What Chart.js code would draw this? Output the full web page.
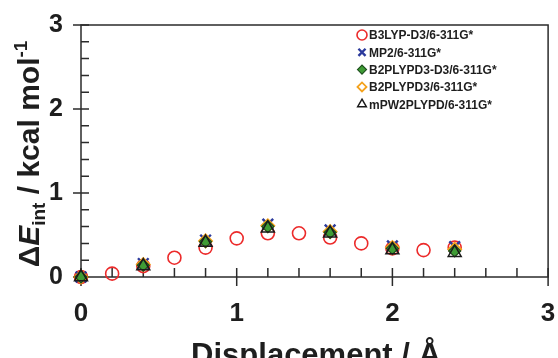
<!DOCTYPE html>
<html>
<head>
<meta charset="utf-8">
<script src="https://cdn.jsdelivr.net/npm/chart.js@4.4.1/dist/chart.umd.min.js"></script>
<style>
    html, body { margin: 0; padding: 0; background: #fff; }
    #wrap { width: 558px; height: 358px; position: relative; }
</style>
</head>
<body>
<div id="wrap"><canvas id="energyChart"></canvas></div>
<script>
// Data (displacement in Å, ΔE_int in kcal/mol)
const b3lypX = [0, 0.2, 0.4, 0.6, 0.8, 1.0, 1.2, 1.4, 1.6, 1.8, 2.0, 2.2, 2.4];
const b3lypY = [0, 0.04, 0.13, 0.23, 0.35, 0.46, 0.52, 0.52, 0.47, 0.40, 0.34, 0.32, 0.35];
const otherX = [0, 0.4, 0.8, 1.2, 1.6, 2.0, 2.4];
const mp2Y = [0, 0.16, 0.44, 0.63, 0.56, 0.37, 0.36];
const b2plypd3D3Y = [0, 0.14, 0.42, 0.60, 0.53, 0.34, 0.31];
const b2plypd3Y = [0, 0.15, 0.43, 0.61, 0.54, 0.35, 0.33];
const mpw2plypdY = [0, 0.13, 0.41, 0.58, 0.52, 0.32, 0.29];
const seriesLabels = ['B3LYP-D3/6-311G*', 'MP2/6-311G*', 'B2PLYPD3-D3/6-311G*', 'B2PLYPD3/6-311G*', 'mPW2PLYPD/6-311G*'];
const majorTicks = [0, 1, 2, 3];

function toPoints(xs, ys) {
    return xs.map((x, i) => ({ x: x, y: ys[i] }));
}

const AXIS = '#2b2b2b';
const FONT = '"Liberation Sans", Arial, sans-serif';

const datasets = [
    { label: seriesLabels[0], data: toPoints(b3lypX, b3lypY), pointStyle: 'circle', pointRadius: 6.5,
      borderColor: '#ec2a2a', backgroundColor: 'rgba(0,0,0,0)', borderWidth: 1.6, order: 4 },
    { label: seriesLabels[1], data: toPoints(otherX, mp2Y), pointStyle: 'crossRot', pointRadius: 7.5,
      borderColor: '#2c3a9c', backgroundColor: '#2c3a9c', borderWidth: 2.4, order: 3 },
    { label: seriesLabels[2], data: toPoints(otherX, b2plypd3D3Y), pointStyle: 'rectRot', pointRadius: 6,
      borderColor: '#1d4f1d', backgroundColor: '#3f9c35', borderWidth: 1.2, order: 1 },
    { label: seriesLabels[3], data: toPoints(otherX, b2plypd3Y), pointStyle: 'rectRot', pointRadius: 6.5,
      borderColor: '#f4a21c', backgroundColor: 'rgba(0,0,0,0)', borderWidth: 1.8, order: 2 },
    { label: seriesLabels[4], data: toPoints(otherX, mpw2plypdY), pointStyle: 'triangle', pointRadius: 7.5,
      borderColor: '#1a1a1a', backgroundColor: 'rgba(0,0,0,0)', borderWidth: 1.5, order: 0 }
];
datasets.forEach(ds => {
    ds.showLine = false;
    ds.clip = false;
    ds.pointHoverRadius = ds.pointRadius;
});

function noOverhang(scale) {
    scale.paddingLeft = 0;
    scale.paddingRight = 0;
    scale.paddingTop = 0;
    scale.paddingBottom = 0;
}

// frame, tick marks, axis titles, legend
const decorPlugin = {
    id: 'decor',
    beforeDatasetsDraw(chart) {
        const ctx = chart.ctx;
        const area = chart.chartArea;
        const xs = chart.scales.x;
        const ys = chart.scales.y;
        ctx.save();
        ctx.strokeStyle = AXIS;
        ctx.lineWidth = 1.5;
        ctx.strokeRect(area.left, area.top, area.right - area.left, area.bottom - area.top);

        // ticks every 0.2, majors cross the axis
        for (let i = 0; i <= 15; i++) {
            const v = i * 0.2;
            const major = i % 5 === 0;
            const px = xs.getPixelForValue(v);
            const py = ys.getPixelForValue(v);
            ctx.beginPath();
            ctx.moveTo(px, area.bottom + (major ? 9 : 0));
            ctx.lineTo(px, area.bottom - 9);
            ctx.moveTo(area.left - (major ? 8 : 0), py);
            ctx.lineTo(area.left + 8, py);
            ctx.stroke();
        }
        ctx.restore();
    },
    afterDatasetsDraw(chart) {
        const ctx = chart.ctx;
        ctx.save();
        ctx.fillStyle = '#1e1e1e';
        // x title
        ctx.font = 'bold 31px ' + FONT;
        ctx.textAlign = 'center';
        ctx.textBaseline = 'alphabetic';
        ctx.fillText('Displacement / Å', 316, 365);

        // y title with subscript and superscript
        const big = 'bold 30px ' + FONT;
        const small = 'bold 19px ' + FONT;
        const parts = [
            { t: '\u0394', f: big, dy: 0 },
            { t: 'E', f: 'italic ' + big, dy: 0 },
            { t: 'int', f: small, dy: 6 },
            { t: ' / kcal mol', f: big, dy: 0 },
            { t: '-1', f: small, dy: -12 }
        ];
        let total = 0;
        parts.forEach(p => { ctx.font = p.f; p.w = ctx.measureText(p.t).width; total += p.w; });
        ctx.translate(39, 154);
        ctx.rotate(-Math.PI / 2);
        ctx.textAlign = 'left';
        let cx = -total / 2;
        parts.forEach(p => {
            ctx.font = p.f;
            ctx.fillText(p.t, cx, p.dy);
            cx += p.w;
        });
        ctx.restore();

        // legend
        ctx.save();
        ctx.font = 'bold 12px ' + FONT;
        ctx.textBaseline = 'middle';
        ctx.textAlign = 'left';
        chart.data.datasets.forEach((ds, i) => {
            const ly = 35 + i * 17.3;
            ctx.strokeStyle = ds.borderColor;
            ctx.fillStyle = ds.backgroundColor;
            ctx.lineWidth = ds.borderWidth;
            Chart.helpers.drawPoint(ctx, {
                pointStyle: ds.pointStyle,
                radius: ds.pointStyle === 'rectRot' ? 4.5 : 5,
                borderWidth: Math.min(ds.borderWidth, 1.6),
                rotation: 0
            }, 362, ly);
            ctx.fillStyle = '#1e1e1e';
            ctx.fillText(ds.label, 369, ly + 1);
        });
        ctx.restore();
    }
};

new Chart(document.getElementById('energyChart'), {
    type: 'scatter',
    data: { datasets: datasets },
    options: {
        responsive: true,
        maintainAspectRatio: false,
        animation: false,
        layout: { padding: { top: 25, right: 8, left: 0, bottom: 0 } },
        plugins: {
            legend: { display: false },
            tooltip: { enabled: false }
        },
        scales: {
            x: {
                type: 'linear',
                min: 0,
                max: 3,
                afterBuildTicks(scale) { scale.ticks = majorTicks.map(v => ({ value: v })); },
                afterFit(scale) { scale.height = 81; noOverhang(scale); },
                grid: { display: false, drawTicks: false },
                border: { display: false },
                ticks: {
                    padding: 21,
                    color: '#1e1e1e',
                    font: { family: FONT, size: 26, weight: 'bold' }
                }
            },
            y: {
                type: 'linear',
                min: 0,
                max: 3,
                afterBuildTicks(scale) { scale.ticks = majorTicks.map(v => ({ value: v })); },
                afterFit(scale) { scale.width = 81; noOverhang(scale); },
                grid: { display: false, drawTicks: false },
                border: { display: false },
                ticks: {
                    padding: 18,
                    color: '#1e1e1e',
                    font: { family: FONT, size: 25, weight: 'bold' }
                }
            }
        }
    },
    plugins: [decorPlugin]
});
</script>
</body>
</html>
